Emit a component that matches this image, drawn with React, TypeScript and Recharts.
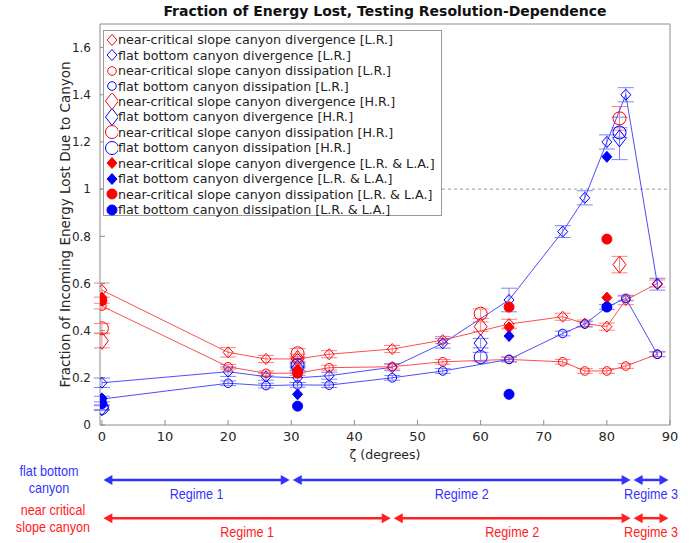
import { ScatterChart, Scatter, XAxis, YAxis, ReferenceLine, ErrorBar } from 'recharts';

const FONT = '"DejaVu Sans", "Liberation Sans", sans-serif';
const SANS = '"Liberation Sans", Arial, sans-serif';
const RED = '#ff0000';
const BLUE = '#0000ff';
const AXIS = '#8c8c8c';

const xTicks = [0, 10, 20, 30, 40, 50, 60, 70, 80, 90];
const yTicks = [0, 0.2, 0.4, 0.6, 0.8, 1, 1.2, 1.4, 1.6];

// low resolution runs (joined by lines)
const lrAngles = [0, 20, 26, 31, 36, 46, 54, 64.5, 73, 76.5, 80, 83, 88];
const lrSlopeDiv = [0.572, 0.308, 0.28, 0.28, 0.3, 0.322, 0.36, 0.428, 0.459, 0.43, 0.417, 0.53, 0.6];
const lrSlopeDivErr = [0.03, 0.02, 0.015, 0.02, 0.015, 0.015, 0.015, 0.02, 0.015, 0.015, 0.015, 0.02, 0.015];
const lrFlatDiv = [0.179, 0.226, 0.205, 0.2, 0.209, 0.245, 0.346, 0.53, 0.82, 0.963, 1.2, 1.4, 0.597];
const lrFlatDivErr = [0.02, 0.02, 0.015, 0.02, 0.015, 0.015, 0.02, 0.05, 0.025, 0.03, 0.03, 0.03, 0.025];
const lrSlopeDis = [0.504, 0.247, 0.219, 0.22, 0.243, 0.247, 0.268, 0.278, 0.268, 0.229, 0.229, 0.25, 0.3];
const lrFlatDis = [0.11, 0.177, 0.167, 0.17, 0.169, 0.2, 0.229, 0.278, 0.388, 0.428, 0.5, 0.537, 0.3];
const lrDisErr = [0.012, 0.01, 0.01, 0.01, 0.01, 0.01, 0.01, 0.01, 0.01, 0.01, 0.01, 0.01, 0.01];

// high resolution runs
const hrAngles = [0, 31, 60, 82];
const hrSlopeDiv = [0.357, 0.28, 0.417, 0.68];
const hrSlopeDivErr = [0.03, 0.01, 0.02, 0.035];
const hrFlatDiv = [0.075, 0.24, 0.347, 1.215];
const hrFlatDivErr = [0.01, 0.01, 0.02, 0.09];
const hrSlopeDis = [0.41, 0.304, 0.472, 1.3];
const hrSlopeDisErr = [0.02, 0.02, 0.02, 0.05];
const hrFlatDis = [0.072, 0.254, 0.288, 1.24];
const hrFlatDisErr = [0.01, 0.01, 0.02, 0.02];

// low resolution, large amplitude runs
const laAngles = [0, 31, 64.5, 80];
const laSlopeDiv = [0.54, 0.235, 0.414, 0.54];
const laFlatDiv = [0.113, 0.13, 0.377, 1.137];
const laSlopeDis = [0.527, 0.22, 0.5, 0.788];
const laFlatDis = [0.09, 0.08, 0.13, 0.5];

// regime boundaries along the angle axis
const flatRegimes = [0, 30, 84, 90];
const slopeRegimes = [0, 46, 84, 90];
const flatArrowY = -0.233;
const slopeArrowY = -0.395;

const toPoints = (xs: number[], ys: number[], errs?: number[]) =>
  xs.map((x, i) => ({ x, y: ys[i], err: errs ? errs[i] : 0 }));

type Marker = { kind: 'diamond' | 'circle'; big: boolean; filled: boolean; color: string };

const drawMarker = (m: Marker, cx: number, cy: number) => {
  const fill = m.filled ? m.color : 'none';
  if (m.kind === 'circle') {
    const r = m.filled ? 5 : m.big ? 6.5 : 4.3;
    return <circle cx={cx} cy={cy} r={r} fill={fill} stroke={m.color} strokeWidth={1} />;
  }
  const w = m.filled ? 5 : m.big ? 6.5 : 5;
  const h = m.filled ? 5.5 : m.big ? 8.5 : 5.5;
  return (
    <polygon
      points={`${cx},${cy - h} ${cx + w},${cy} ${cx},${cy + h} ${cx - w},${cy}`}
      fill={fill}
      stroke={m.color}
      strokeWidth={1}
    />
  );
};

const markerShape = (m: Marker) => (props: any) => drawMarker(m, props.cx, props.cy);

interface Series {
  name: string;
  marker: Marker;
  data: { x: number; y: number; err: number }[];
  line?: string;
}

const series: Series[] = [
  { name: 'near-critical slope canyon divergence [L.R.]', marker: { kind: 'diamond', big: false, filled: false, color: RED }, data: toPoints(lrAngles, lrSlopeDiv, lrSlopeDivErr), line: '#ff4d4d' },
  { name: 'flat bottom canyon divergence [L.R.]', marker: { kind: 'diamond', big: false, filled: false, color: BLUE }, data: toPoints(lrAngles, lrFlatDiv, lrFlatDivErr), line: '#4d4dff' },
  { name: 'near-critical slope canyon dissipation [L.R.]', marker: { kind: 'circle', big: false, filled: false, color: RED }, data: toPoints(lrAngles, lrSlopeDis, lrDisErr), line: '#ff4d4d' },
  { name: 'flat bottom canyon dissipation [L.R.]', marker: { kind: 'circle', big: false, filled: false, color: BLUE }, data: toPoints(lrAngles, lrFlatDis, lrDisErr), line: '#4d4dff' },
  { name: 'near-critical slope canyon divergence [H.R.]', marker: { kind: 'diamond', big: true, filled: false, color: RED }, data: toPoints(hrAngles, hrSlopeDiv, hrSlopeDivErr) },
  { name: 'flat bottom canyon divergence [H.R.]', marker: { kind: 'diamond', big: true, filled: false, color: BLUE }, data: toPoints(hrAngles, hrFlatDiv, hrFlatDivErr) },
  { name: 'near-critical slope canyon dissipation [H.R.]', marker: { kind: 'circle', big: true, filled: false, color: RED }, data: toPoints(hrAngles, hrSlopeDis, hrSlopeDisErr) },
  { name: 'flat bottom canyon dissipation [H.R.]', marker: { kind: 'circle', big: true, filled: false, color: BLUE }, data: toPoints(hrAngles, hrFlatDis, hrFlatDisErr) },
  { name: 'near-critical slope canyon divergence [L.R. & L.A.]', marker: { kind: 'diamond', big: false, filled: true, color: RED }, data: toPoints(laAngles, laSlopeDiv) },
  { name: 'flat bottom canyon divergence [L.R. & L.A.]', marker: { kind: 'diamond', big: false, filled: true, color: BLUE }, data: toPoints(laAngles, laFlatDiv) },
  { name: 'near-critical slope canyon dissipation [L.R. & L.A.]', marker: { kind: 'circle', big: false, filled: true, color: RED }, data: toPoints(laAngles, laSlopeDis) },
  { name: 'flat bottom canyon dissipation [L.R. & L.A.]', marker: { kind: 'circle', big: false, filled: true, color: BLUE }, data: toPoints(laAngles, laFlatDis) },
];

// double-headed arrow with its regime label underneath
const regimeArrow = (color: string, label: string) => (props: any) => {
  const { x1, y1, x2 } = props;
  const a = x1 + 1.5;
  const b = x2 - 1.5;
  const head = 9;
  const half = 5;
  return (
    <g>
      <line x1={a + head - 1} y1={y1} x2={b - head + 1} y2={y1} stroke={color} strokeWidth={2.5} />
      <polygon points={`${a},${y1} ${a + head},${y1 - half} ${a + head},${y1 + half}`} fill={color} />
      <polygon points={`${b},${y1} ${b - head},${y1 - half} ${b - head},${y1 + half}`} fill={color} />
      <text
        transform={`translate(${(a + b) / 2} ${y1 + 19}) scale(0.84 1)`}
        textAnchor="middle"
        fill={color}
        fontSize={15}
        fontFamily={SANS}
      >
        {label}
      </text>
    </g>
  );
};

const regimeLines = (edges: number[], y: number, color: string, key: string) =>
  edges.slice(0, -1).map((start, i) => (
    <ReferenceLine
      key={`${key}-${i}`}
      segment={[{ x: start, y }, { x: edges[i + 1], y }]}
      ifOverflow="visible"
      shape={regimeArrow(color, `Regime ${i + 1}`)}
    />
  ));

const LegendBox = () => (
  <div
    style={{
      position: 'absolute',
      left: 103,
      top: 30,
      width: 339,
      height: 186,
      border: '1px solid #9a9a9a',
      background: '#fff',
      fontFamily: FONT,
      fontSize: 12.7,
      color: '#222',
      boxSizing: 'border-box',
      paddingTop: 1,
    }}
  >
    {series.map((s) => (
      <div key={s.name} style={{ display: 'flex', alignItems: 'center', height: 15.45, whiteSpace: 'nowrap' }}>
        <svg width={14} height={16} style={{ flex: 'none' }}>
          {drawMarker(s.marker, 8, 8)}
        </svg>
        <span>{s.name}</span>
      </div>
    ))}
  </div>
);

const RowLabel = ({ lines, color, left, top }: { lines: string[]; color: string; left: number; top: number }) => (
  <div
    style={{
      position: 'absolute',
      left,
      top,
      width: 110,
      textAlign: 'center',
      color,
      fontFamily: SANS,
      fontSize: 15,
      lineHeight: '17px',
      transform: 'scaleX(0.84)',
    }}
  >
    {lines.map((l) => (
      <div key={l}>{l}</div>
    ))}
  </div>
);

export default function App() {
  return (
    <div style={{ position: 'absolute', left: 0, top: 0, width: 694, height: 543, background: '#fff' }}>
      <ScatterChart width={694} height={543} margin={{ top: 23, right: 23, bottom: 78, left: 40 }}>
        <XAxis
          dataKey="x"
          type="number"
          domain={[-0.3, 90]}
          allowDataOverflow
          ticks={xTicks}
          tickSize={-5}
          tickMargin={12}
          height={40}
          stroke={AXIS}
          tick={{ fill: '#262626', fontSize: 13, fontFamily: FONT }}
          label={{ value: 'ζ (degrees)', position: 'insideBottom', offset: 6, fill: '#262626', fontSize: 12.5, fontFamily: FONT }}
        />
        <XAxis xAxisId="top" orientation="top" type="number" domain={[-0.3, 90]} allowDataOverflow ticks={xTicks} tickSize={-5} tick={false} height={1} stroke={AXIS} />
        <YAxis
          dataKey="y"
          type="number"
          domain={[0, 1.7]}
          allowDataOverflow
          ticks={yTicks}
          tickSize={-5}
          tickMargin={14}
          width={60}
          stroke={AXIS}
          tickFormatter={(v: number) => String(v)}
          tick={{ fill: '#262626', fontSize: 12, fontFamily: FONT }}
          label={{
            value: 'Fraction of Incoming Energy Lost Due to Canyon',
            angle: -90,
            position: 'insideLeft',
            offset: 25,
            fill: '#262626',
            fontSize: 13.5,
            fontFamily: FONT,
            style: { textAnchor: 'middle' },
          }}
        />
        <YAxis yAxisId="right" orientation="right" type="number" domain={[0, 1.7]} allowDataOverflow ticks={yTicks} tickSize={-5} tick={false} width={1} stroke={AXIS} />
        <ReferenceLine y={1} stroke="#999" strokeDasharray="3 3" />
        {series.map((s) => (
          <Scatter
            key={s.name}
            name={s.name}
            data={s.data}
            shape={markerShape(s.marker)}
            line={s.line ? { stroke: s.line, strokeWidth: 1 } : false}
            lineType="joint"
            isAnimationActive={false}
          >
            <ErrorBar
              dataKey="err"
              direction="y"
              width={8}
              strokeWidth={1}
              stroke={s.marker.color === RED ? '#ff8080' : '#8080ff'}
              isAnimationActive={false}
            />
          </Scatter>
        ))}
        {regimeLines(flatRegimes, flatArrowY, '#3333ff', 'flat')}
        {regimeLines(slopeRegimes, slopeArrowY, '#ff2020', 'slope')}
      </ScatterChart>
      <div
        style={{
          position: 'absolute',
          left: 100,
          top: 3,
          width: 570,
          textAlign: 'center',
          fontFamily: FONT,
          fontWeight: 'bold',
          fontSize: 14,
          color: '#111',
        }}
      >
        Fraction of Energy Lost, Testing Resolution-Dependence
      </div>
      <LegendBox />
      <RowLabel lines={['flat bottom', 'canyon']} color="#3333ff" left={-6} top={462} />
      <RowLabel lines={['near critical', 'slope canyon']} color="#ff2020" left={-2} top={501} />
    </div>
  );
}
